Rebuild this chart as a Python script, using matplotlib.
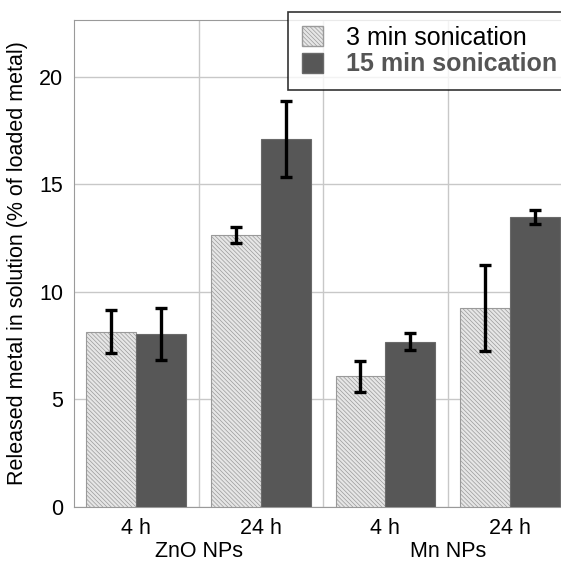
import numpy as np
import matplotlib
matplotlib.use('Agg')
import matplotlib.pyplot as plt
from matplotlib.patches import Patch

plt.rcParams['font.family'] = ['Liberation Sans', 'DejaVu Sans']
plt.rcParams['hatch.color'] = '#9a9a9a'
plt.rcParams['hatch.linewidth'] = 0.5

# data
time_labels = ['4 h', '24 h', '4 h', '24 h']
np_labels = ['ZnO NPs', 'Mn NPs']
short_vals = [8.14, 12.65, 6.09, 9.24]
short_err = [1.0, 0.35, 0.72, 2.0]
long_vals = [8.05, 17.12, 7.69, 13.5]
long_err = [1.2, 1.75, 0.38, 0.32]
series_names = ['3 min sonication', '15 min sonication']

fig = plt.figure(figsize=(5.61, 5.67), dpi=100)
ax = fig.add_axes([74 / 561, 60 / 567, 1 - 74 / 561, 487 / 567])

x = np.arange(len(time_labels))
w = 0.4
ebar = dict(ecolor='black', elinewidth=2.4, capsize=4.5, capthick=2.4)
light_hatch = '\\\\\\\\\\\\\\\\'

ax.bar(x - w / 2, short_vals, w, yerr=short_err, color='#e6e6e6',
       edgecolor='#9a9a9a', linewidth=0.8, hatch=light_hatch, error_kw=ebar, zorder=3)
ax.bar(x + w / 2, long_vals, w, yerr=long_err, color='#575757',
       edgecolor='#6a6a6a', linewidth=0.8, error_kw=ebar, zorder=3)

ax.set_xlim(-0.5, 3.41)
ax.set_ylim(0, 22.65)
ax.set_yticks([0, 5, 10, 15, 20])
ax.set_xticks(x)
ax.set_xticklabels(time_labels)
ax.tick_params(length=0, labelsize=15.5, pad=8)

ax.set_xticks([0.5, 1.5, 2.5], minor=True)
ax.tick_params(which='minor', length=0)
ax.grid(True, axis='y', which='major', color='#c8c8c8', linewidth=1, zorder=0)
ax.grid(True, axis='x', which='minor', color='#c8c8c8', linewidth=1, zorder=0)
ax.set_axisbelow(True)

for s in ['left', 'bottom', 'top']:
    ax.spines[s].set_color('#9a9a9a')
ax.spines['right'].set_visible(False)

ax.set_ylabel('Released metal in solution (% of loaded metal)', fontsize=15.5, labelpad=8)

# group labels below the time labels
for i, lab in enumerate(np_labels):
    ax.text(0.5 + 2 * i, -0.092, lab, transform=ax.get_xaxis_transform(),
            ha='center', va='center', fontsize=15.5)

handles = [Patch(facecolor='#e6e6e6', edgecolor='#9a9a9a', hatch=light_hatch),
           Patch(facecolor='#575757', edgecolor='#6a6a6a')]
leg = fig.legend(handles, series_names, loc='upper left',
                 bbox_to_anchor=(288 / 561, 1 - 12 / 567), fontsize=18,
                 frameon=True, fancybox=False, edgecolor='black',
                 handlelength=0.85, handleheight=0.85, handletextpad=0.9,
                 borderpad=0.55, labelspacing=0.1, borderaxespad=0)
leg.get_frame().set_linewidth(1.2)
texts = leg.get_texts()
texts[1].set_color('#555555')
texts[1].set_fontweight('bold')

fig.savefig('out.png', dpi=100)
